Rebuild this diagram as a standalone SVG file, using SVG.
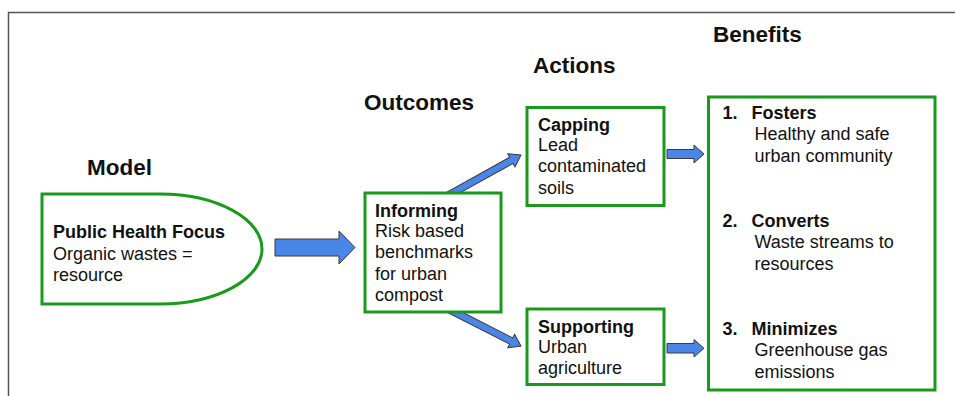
<svg xmlns="http://www.w3.org/2000/svg" width="955" height="396" viewBox="0 0 955 396">
  <style>
    text { font-family: "Liberation Sans", Arial, sans-serif; font-size: 18px; fill: #111; }
    .head { font-size: 22.5px; font-weight: bold; }
    .b { font-weight: bold; }
    .box { fill: #fff; stroke: #1a9a1a; stroke-width: 3; }
    .arrow { fill: #4a86e8; stroke: #3a3a3a; stroke-width: 1; stroke-linejoin: miter; }
  </style>
  <defs>
    <!-- slim arrow, tip at origin pointing along +x -->
    <polygon id="slim" points="0,0 -11,-7.5 -11,-3.5 -90,-3.5 -90,3.5 -11,3.5 -11,7.5"/>
  </defs>

  <rect width="955" height="396" fill="#fff"/>
  <!-- frame -->
  <path d="M8.5,396 V12.5 H955" fill="none" stroke="#555" stroke-width="1.5"/>

  <!-- column headings -->
  <text class="head" x="87" y="175">Model</text>
  <text class="head" x="364" y="110">Outcomes</text>
  <text class="head" x="533" y="73">Actions</text>
  <text class="head" x="713" y="42">Benefits</text>

  <!-- connectors (drawn first so boxes sit on top) -->
  <g id="connectors">
    <polygon class="arrow" points="275,239 339,239 339,231 355,247.5 339,264 339,256 275,256"/>
    <use href="#slim" class="arrow" transform="translate(521,155) rotate(-29)"/>
    <use href="#slim" class="arrow" transform="translate(521,346) rotate(27)"/>
    <polygon class="arrow" points="667,149.5 694,149.5 694,145 704,154 694,163 694,158.5 667,158.5"/>
    <polygon class="arrow" points="667,343.5 694,343.5 694,339.5 704,348.3 694,357 694,353 667,353"/>
  </g>

  <g id="model">
    <path class="box" d="M42,194 H160 A102,55 0 0 1 160,304 H42 Z"/>
    <text class="b" x="53" y="238">Public Health Focus</text>
    <text x="53" y="259.5">Organic wastes =</text>
    <text x="53" y="281">resource</text>
  </g>

  <g id="informing">
    <rect class="box" x="365" y="193" width="136" height="119"/>
    <text class="b" x="375" y="216.5">Informing</text>
    <text x="375" y="237">Risk based</text>
    <text x="375" y="258">benchmarks</text>
    <text x="375" y="279.5">for urban</text>
    <text x="375" y="301">compost</text>
  </g>

  <g id="capping">
    <rect class="box" x="527" y="107.5" width="137" height="98"/>
    <text class="b" x="538" y="131">Capping</text>
    <text x="538" y="151">Lead</text>
    <text x="538" y="172">contaminated</text>
    <text x="538" y="193.5">soils</text>
  </g>

  <g id="supporting">
    <rect class="box" x="527" y="309" width="137" height="75.5"/>
    <text class="b" x="538" y="332.5">Supporting</text>
    <text x="538" y="353">Urban</text>
    <text x="538" y="374">agriculture</text>
  </g>

  <g id="benefits">
    <rect class="box" x="708.5" y="97" width="226.5" height="293"/>
    <text class="b" x="722.5" y="118.5">1.</text>
    <text class="b" x="751.5" y="118.5">Fosters</text>
    <text x="754.5" y="140">Healthy and safe</text>
    <text x="754.5" y="162">urban community</text>
    <text class="b" x="722.5" y="226.5">2.</text>
    <text class="b" x="751.5" y="226.5">Converts</text>
    <text x="754.5" y="248">Waste streams to</text>
    <text x="754.5" y="269.5">resources</text>
    <text class="b" x="722.5" y="335">3.</text>
    <text class="b" x="751.5" y="335">Minimizes</text>
    <text x="754.5" y="356">Greenhouse gas</text>
    <text x="754.5" y="377.5">emissions</text>
  </g>
</svg>
